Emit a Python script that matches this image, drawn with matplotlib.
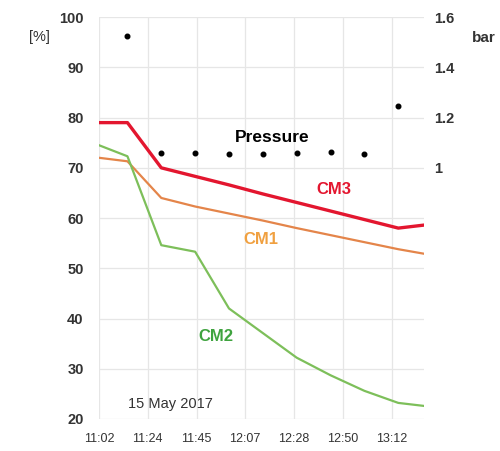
import matplotlib
matplotlib.use("Agg")
import matplotlib.pyplot as plt
from matplotlib.ticker import FixedLocator, FuncFormatter

plt.rcParams["font.family"] = ["Liberation Sans", "DejaVu Sans"]


def to_min(s):
    h, m = s.split(":")
    return int(h) * 60 + float(m)


# readings, 15 May 2017
cm_times = ["11:02.4", "11:15", "11:30", "11:45", "12:00", "12:15", "12:30",
            "12:45", "13:00", "13:15", "13:26.4"]
cm1 = [72.0, 71.3, 64.0, 62.3, 60.9, 59.5, 58.0, 56.6, 55.2, 53.8, 52.9]
cm2 = [74.5, 72.3, 54.6, 53.3, 42.0, 37.1, 32.2, 28.7, 25.6, 23.2, 22.6]
cm3 = [79.0, 79.0, 70.0, 68.3, 66.6, 64.8, 63.1, 61.4, 59.7, 58.0, 58.6]

p_times = ["11:15", "11:30", "11:45", "12:00", "12:15", "12:30", "12:45",
           "13:00", "13:15"]
pressure = [1.524, 1.06, 1.06, 1.056, 1.056, 1.06, 1.064, 1.056, 1.245]

x_ticks = ["11:02.4", "11:24", "11:45.6", "12:07.2", "12:28.8", "12:50.4", "13:12"]

t_cm = [to_min(t) for t in cm_times]
t_p = [to_min(t) for t in p_times]

fig = plt.figure(figsize=(5, 4.51), dpi=100)
ax = fig.add_axes([0.198, 0.071, 0.65, 0.891])
ax2 = ax.twinx()

ax.plot(t_cm, cm1, color="#E4854A", lw=1.6, zorder=3)
ax.plot(t_cm, cm2, color="#7DBF5A", lw=1.6, zorder=3)
ax.plot(t_cm, cm3, color="#E3162F", lw=2.4, zorder=4)
ax2.plot(t_p, pressure, "o", color="black", ms=3.3, zorder=5)

ax.set_xlim(to_min("11:02.4"), to_min("13:26.4"))
ax.set_ylim(20, 100)
ax2.set_ylim(0, 1.6)

ax.xaxis.set_major_locator(FixedLocator([to_min(t) for t in x_ticks]))
ax.xaxis.set_major_formatter(FuncFormatter(
    lambda v, pos: f"{int(v // 60)}:{int(v % 60):02d}"))
ax.set_yticks(range(20, 101, 10))
ax2.set_yticks([1, 1.2, 1.4, 1.6])
ax2.set_yticklabels(["1", "1.2", "1.4", "1.6"])

ax.grid(True, color="#E6E6E6", lw=0.9)
ax.set_axisbelow(True)
for a in (ax, ax2):
    for s in a.spines.values():
        s.set_visible(False)

ax.tick_params(axis="y", length=0, pad=11, labelsize=10.5)
ax.tick_params(axis="x", length=0, pad=10, labelsize=9)
ax2.tick_params(axis="y", length=0, pad=7, labelsize=10.5)
for lbl in ax.get_yticklabels() + ax2.get_yticklabels():
    lbl.set_fontweight("bold")
    lbl.set_color("#333333")
for lbl in ax.get_xticklabels():
    lbl.set_color("#333333")

# series labels
ax.text(to_min("12:19"), 76.1, "Pressure", fontsize=12.5, fontweight="bold",
        ha="center", va="center", color="black")
ax.text(to_min("12:46.4"), 65.6, "CM3", fontsize=12, fontweight="bold",
        ha="center", va="center", color="#E3162F")
ax.text(to_min("12:14.3"), 55.7, "CM1", fontsize=12, fontweight="bold",
        ha="center", va="center", color="#F0A040")
ax.text(to_min("11:54.4"), 36.4, "CM2", fontsize=12, fontweight="bold",
        ha="center", va="center", color="#3FA33F")
ax.text(to_min("11:34"), 22.9, "15 May 2017", fontsize=10.5,
        ha="center", va="center", color="#333333")

fig.text(0.078, 0.918, "[%]", fontsize=10.5, ha="center", va="center", color="#333333")
fig.text(0.968, 0.916, "bar", fontsize=11, fontweight="bold",
         ha="center", va="center", color="#333333")

fig.savefig("out.png", dpi=100)
